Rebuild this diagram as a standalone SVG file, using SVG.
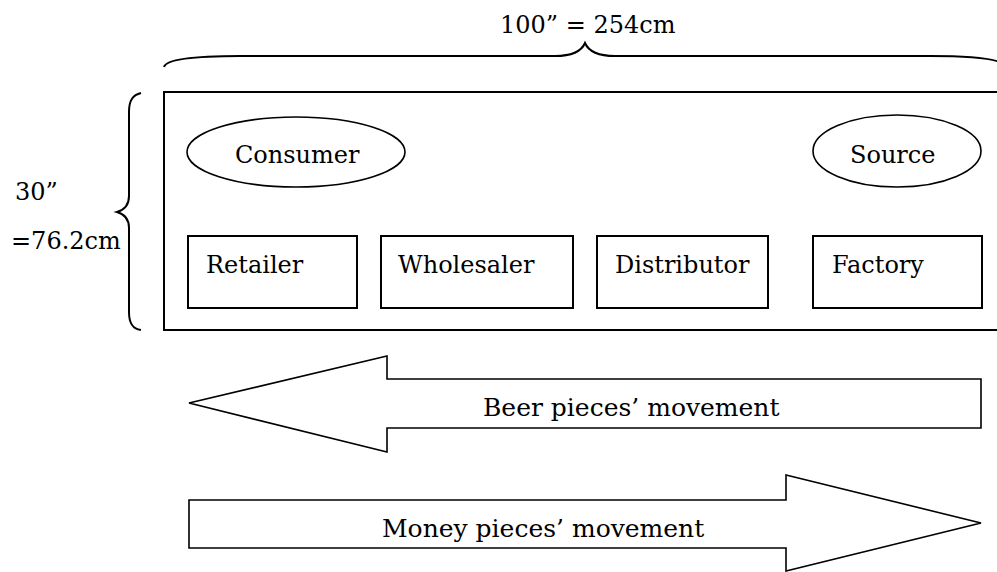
<svg xmlns="http://www.w3.org/2000/svg" width="997" height="572" viewBox="0 0 997 572">
<style>
text{font-family:"DejaVu Serif","Liberation Serif",serif;font-size:24px;fill:#000}
.lbl{font-size:25px}
.box{fill:#fff;stroke:#000;stroke-width:2}
.ell{fill:#fff;stroke:#000;stroke-width:1.6}
.arr{fill:#fff;stroke:#000;stroke-width:1.6;stroke-linejoin:miter}
.brace{fill:none;stroke:#000;stroke-width:2}
</style>
<rect width="997" height="572" fill="#fff"/>
<g id="dimensions">
<path class="brace" d="M164,67 C166,60 190,56 240,56 L555,56 C575,56 582,50 585,43 C588,50 595,56 615,56 L930,56 C980,56 1004,60 1006,67"/>
<text x="500" y="33" font-size="22">100” = 254cm</text>
<path class="brace" d="M141,93 C133,95 129,100 129,112 L129,196 C129,206 124,210 117,212 C124,214 129,218 129,228 L129,312 C129,324 133,329 141,330"/>
<text x="15" y="200">30”</text>
<text x="11" y="249">=76.2cm</text>
</g>
<g id="board"><rect class="box" x="164" y="92" width="840" height="238"/></g>
<g id="consumer"><ellipse class="ell" cx="296" cy="152" rx="109" ry="35"/><text x="235" y="163">Consumer</text></g>
<g id="source"><ellipse class="ell" cx="897" cy="151" rx="84" ry="36"/><text x="850" y="163">Source</text></g>
<g id="retailer"><rect class="box" x="188" y="236" width="169" height="72"/><text x="206" y="273">Retailer</text></g>
<g id="wholesaler"><rect class="box" x="381" y="236" width="192" height="72"/><text x="398" y="273">Wholesaler</text></g>
<g id="distributor"><rect class="box" x="597" y="236" width="171" height="72"/><text x="615" y="273">Distributor</text></g>
<g id="factory"><rect class="box" x="813" y="236" width="169" height="72"/><text x="832" y="273">Factory</text></g>
<g id="connectors">
<polygon class="arr" points="189,403 387,356 387,379 981,379 981,428 387,428 387,452"/>
<polygon class="arr" points="981,523 786,475 786,500 189,500 189,548 786,548 786,571"/>
</g>
<text class="lbl" x="483" y="416">Beer pieces’ movement</text>
<text class="lbl" x="382" y="537">Money pieces’ movement</text>
</svg>
